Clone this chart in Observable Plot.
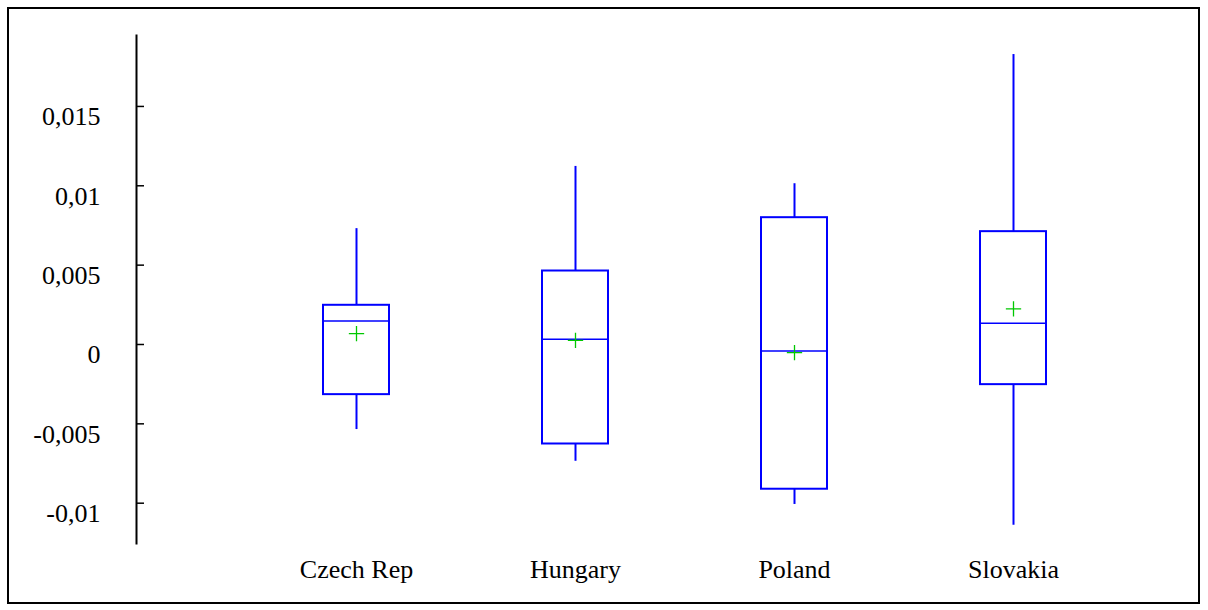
<!DOCTYPE html>
<html><head><meta charset="utf-8">
<script src="https://cdn.jsdelivr.net/npm/d3@7"></script>
<script src="https://cdn.jsdelivr.net/npm/@observablehq/plot@0.6"></script>
<style>
html,body{margin:0;padding:0;background:#fff;}
#wrap{position:relative;width:1208px;height:610px;overflow:hidden;}
#border{position:absolute;left:7px;top:7px;width:1193px;height:597px;border:2px solid #000;box-sizing:border-box;pointer-events:none;}
#chart svg, #chart svg text{font-family:"Liberation Serif", "Times New Roman", serif !important;}
</style></head><body>
<div id="wrap"><div id="chart"></div><div id="border"></div></div>
<script>
const countries = ["Czech Rep", "Hungary", "Poland", "Slovakia"];
const whiskerLow = [-0.00536, -0.00736, -0.01008, -0.01139];
const q1 = [-0.00316, -0.00627, -0.00912, -0.00253];
const median = [0.00148, 0.00033, -0.00041, 0.00134];
const q3 = [0.00247, 0.00463, 0.00799, 0.00711];
const whiskerHigh = [0.00730, 0.01122, 0.01013, 0.01827];
const mean = [0.00069, 0.00026, -0.00051, 0.00224];
const yTicks = [-0.01, -0.005, 0, 0.005, 0.01, 0.015];
const yTickLabels = ["-0,01", "-0,005", "0", "0,005", "0,01", "0,015"];

const data = countries.map((c, i) => ({
  country: c, lo: whiskerLow[i], q1: q1[i], med: median[i], q3: q3[i], hi: whiskerHigh[i], mean: mean[i]
}));

const W = 1208, H = 610, ML = 136, MR = 8;
const blue = "#0000ff";
const serif = "Liberation Serif";

const chart = Plot.plot({
  width: W, height: H,
  marginLeft: ML, marginRight: MR, marginTop: 35, marginBottom: 67,
  style: {fontFamily: serif, fontSize: "26px", color: "#000", background: "#fff"},
  x: {type: "band", domain: countries, range: [245, 1124], paddingInner: 0.7, paddingOuter: 0.35, align: 0.5},
  y: {domain: [-0.01254, 0.01947]},
  marks: [
    Plot.frame({anchor: "left", stroke: "#000", strokeWidth: 2}),
    Plot.tickY(yTicks, {y: d => d, stroke: "#000", strokeWidth: 1.5, insetRight: W - ML - MR - 8}),
    Plot.axisY(yTicks, {tickSize: 0, tickPadding: 36, dy: 10.5, label: null, fontFamily: serif, fontSize: 26,
      tickFormat: d => yTickLabels[yTicks.indexOf(d)], fill: "#000"}),
    Plot.axisX({tickSize: 0, tickPadding: 16, label: null, fill: "#000", fontFamily: serif, fontSize: 26}),
    Plot.ruleX(data, {x: "country", y1: "q3", y2: "hi", stroke: blue, strokeWidth: 2}),
    Plot.ruleX(data, {x: "country", y1: "lo", y2: "q1", stroke: blue, strokeWidth: 2}),
    Plot.barY(data, {x: "country", y1: "q1", y2: "q3", fill: "none", stroke: blue, strokeWidth: 2}),
    Plot.tickY(data, {x: "country", y: "med", stroke: blue, strokeWidth: 1.5}),
    Plot.dot(data, {x: "country", y: "mean", symbol: "plus", r: 5, stroke: "#00c800", strokeWidth: 1.3})
  ]
});
document.getElementById("chart").appendChild(chart);
</script>
</body></html>
